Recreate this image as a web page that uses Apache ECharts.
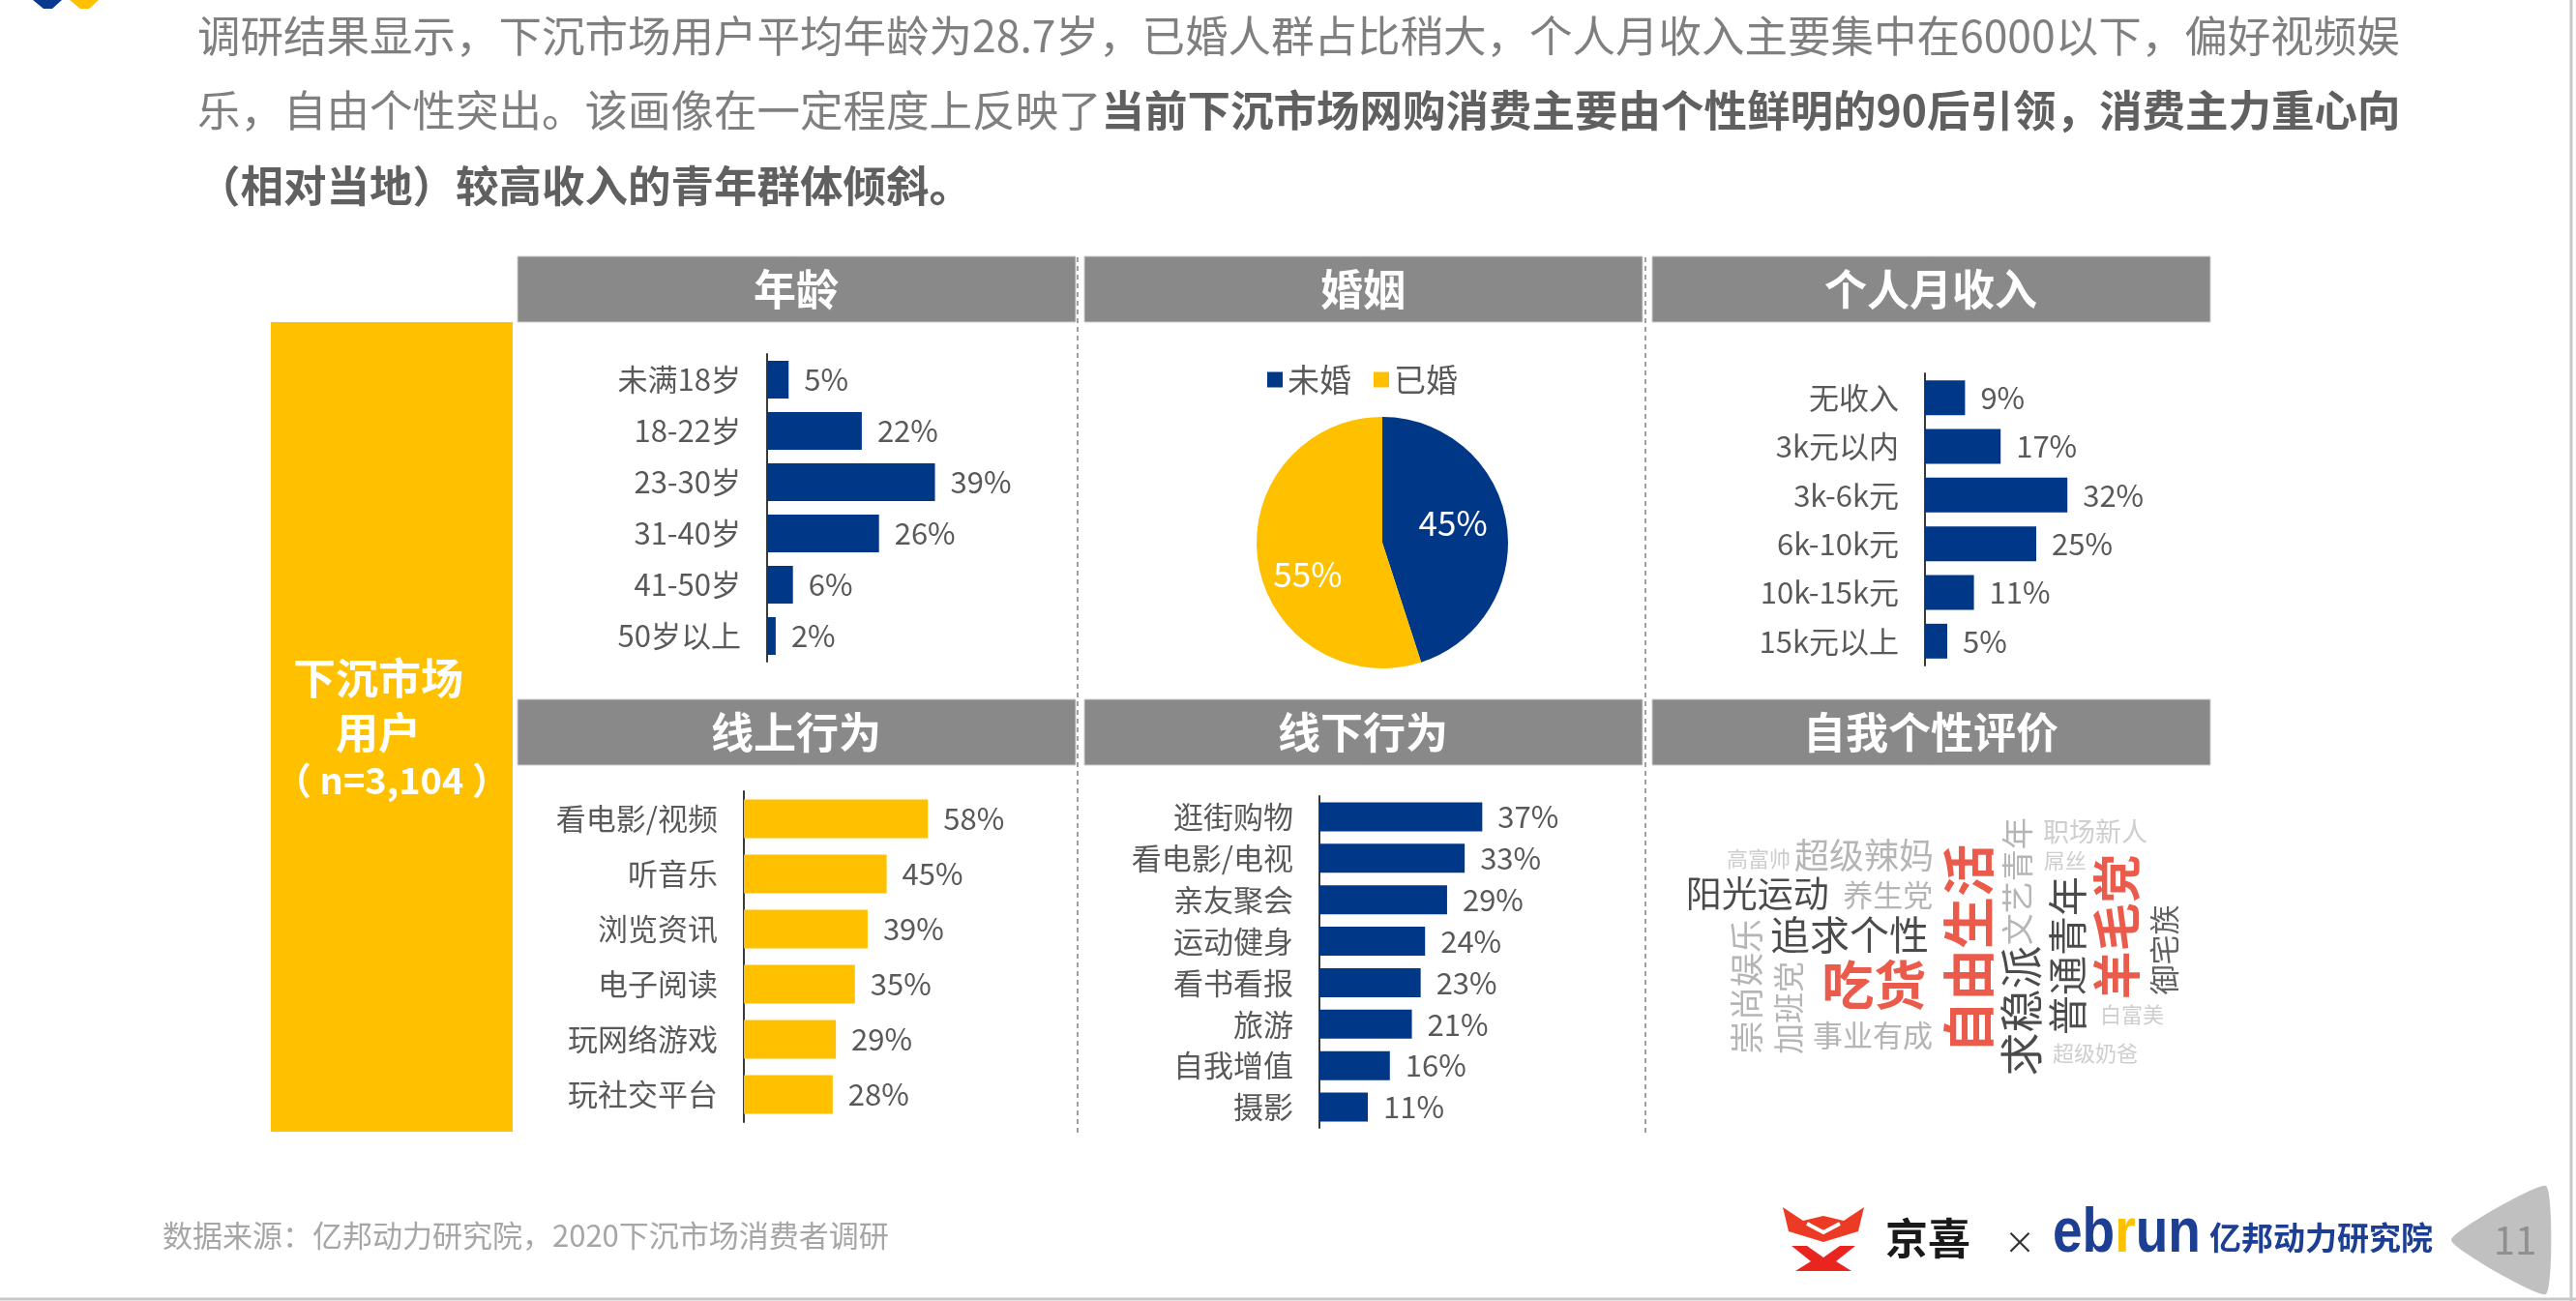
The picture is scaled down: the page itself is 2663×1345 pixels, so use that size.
<!DOCTYPE html>
<html>
<head>
<meta charset="utf-8">
<script src="https://cdn.jsdelivr.net/npm/echarts@6/dist/echarts.min.js"></script>
<style>
html, body { margin: 0; padding: 0; background: #fff; }
#main { width: 2663px; height: 1345px; }
</style>
</head>
<body>
<div id="main"></div>
<script>
var FONT = '"Noto Sans CJK SC", "Noto Sans", sans-serif';
var BLUE = '#003887';
var YELLOW = '#FFC000';

// ---- data ----
var ageCats = ['未满18岁', '18-22岁', '23-30岁', '31-40岁', '41-50岁', '50岁以上'];
var ageVals = [5, 22, 39, 26, 6, 2];

var marryCats = ['未婚', '已婚'];
var marryVals = [45, 55];

var incomeCats = ['无收入', '3k元以内', '3k-6k元', '6k-10k元', '10k-15k元', '15k元以上'];
var incomeVals = [9, 17, 32, 25, 11, 5];

var onlineCats = ['看电影/视频', '听音乐', '浏览资讯', '电子阅读', '玩网络游戏', '玩社交平台'];
var onlineVals = [58, 45, 39, 35, 29, 28];

var offlineCats = ['逛街购物', '看电影/电视', '亲友聚会', '运动健身', '看书看报', '旅游', '自我增值', '摄影'];
var offlineVals = [37, 33, 29, 24, 23, 21, 16, 11];

// word cloud: word, position on a 0-100 board, font size, rotation, tone
var cloudWords  = ['高富帅', '超级辣妈', '阳光运动', '养生党', '追求个性', '崇尚娱乐', '加班党', '吃货', '事业有成', '自由生活', '文艺青年', '职场新人', '屌丝', '求稳派', '普通青年', '羊毛党', '御宅族', '白富美', '超级奶爸'];
var cloudX      = [19.1, 38.0, 18.9, 42.3, 35.4, 17.0, 24.5, 39.8, 39.6, 56.8, 65.5, 79.5, 74.1, 66.3, 74.5, 83.3, 91.8, 86.1, 79.5];
var cloudY      = [25.6, 24.5, 35.1, 35.4, 46.2, 60.4, 66.2, 59.9, 73.6, 50.1, 31.7, 18.2, 26.1, 67.0, 52.0, 44.1, 50.4, 68.1, 78.6];
var cloudSize   = [22, 36, 37, 31, 41, 35, 32, 54, 31, 54, 33, 27, 22, 45, 41, 50, 31, 22, 22];
var cloudRotate = [0, 0, 0, 0, 0, 90, 90, 0, 0, 90, 90, 0, 0, 90, 90, 90, 90, 0, 0];
var cloudTone   = ['l', 'g', 'k', 'g', 'k', 'g', 'g', 'r', 'g', 'r', 'g', 'l', 'l', 'k', 'k', 'r', 'd', 'l', 'l'];

var headers = ['年龄', '婚姻', '个人月收入', '线上行为', '线下行为', '自我个性评价'];

var toneColor = { r: '#e5321f', k: '#1e1e1e', d: '#3a3a3a', g: '#a3a3a3', l: '#c2c2c2' };

var chart = echarts.init(document.getElementById('main'));

function barBlock(i, cats, vals, color, box, barW) {
  return {
    grid: { left: box[0], top: box[1], width: box[2], height: box[3], outerBoundsMode: 'none' },
    xAxis: { gridIndex: i, type: 'value', min: 0, max: box[4], show: false, splitLine: { show: false } },
    yAxis: {
      gridIndex: i, type: 'category', data: cats, inverse: true,
      axisLine: { show: true, lineStyle: { color: '#3a3a3a', width: 2 } },
      axisTick: { show: false },
      splitLine: { show: false },
      axisLabel: { interval: 0, margin: 27, fontSize: 31, color: '#595959', fontFamily: FONT }
    },
    series: {
      type: 'bar', xAxisIndex: i, yAxisIndex: i, data: vals, barWidth: barW, silent: true,
      itemStyle: { color: color },
      label: { show: true, position: 'right', distance: 16, formatter: '{c}%', fontSize: 31, color: '#595959', fontFamily: FONT }
    }
  };
}

var blocks = [
  barBlock(0, ageCats, ageVals, BLUE, [793, 366, 222.5, 318, 50], 39),
  barBlock(1, incomeCats, incomeVals, BLUE, [1990, 386, 230, 302, 50], 36),
  barBlock(2, onlineCats, onlineVals, YELLOW, [769, 818, 262.4, 342, 80], 40),
  barBlock(3, offlineCats, offlineVals, BLUE, [1364, 823, 227.5, 343, 50], 30)
];

var grids = blocks.map(function (b) { return b.grid; });
var xAxes = blocks.map(function (b) { return b.xAxis; });
var yAxes = blocks.map(function (b) { return b.yAxis; });
var series = blocks.map(function (b) { return b.series; });

// word cloud board
grids.push({ left: 1708, top: 791, width: 576, height: 379, outerBoundsMode: 'none' });
xAxes.push({ gridIndex: 4, type: 'value', min: 0, max: 100, show: false, splitLine: { show: false } });
yAxes.push({ gridIndex: 4, type: 'value', min: 0, max: 100, inverse: true, show: false, splitLine: { show: false } });

var cloudData = cloudWords.map(function (w, k) {
  return {
    name: w,
    value: [cloudX[k], cloudY[k]],
    label: {
      fontSize: cloudSize[k],
      rotate: cloudRotate[k],
      color: toneColor[cloudTone[k]],
      fontWeight: cloudTone[k] === 'r' ? 'bold' : 'normal'
    }
  };
});

series.push({
  type: 'scatter', xAxisIndex: 4, yAxisIndex: 4, silent: true,
  symbolSize: 1, itemStyle: { color: 'rgba(0,0,0,0)' },
  data: cloudData,
  label: { show: true, position: 'inside', formatter: '{b}', fontFamily: FONT, align: 'center', verticalAlign: 'middle' }
});

// marriage pie
var pieLabelShift = [[6, -10], [-10, 22]];
series.push({
  type: 'pie', center: [1429, 561], radius: 130, startAngle: 90, clockwise: true, silent: true,
  itemStyle: { borderWidth: 0 },
  label: { show: true, position: 'inside', formatter: '{c}%', color: '#fff', fontSize: 35, fontFamily: FONT },
  labelLine: { show: false },
  data: marryCats.map(function (c, k) {
    return {
      name: c, value: marryVals[k],
      itemStyle: { color: k === 0 ? BLUE : YELLOW },
      label: { offset: pieLabelShift[k] }
    };
  })
});

// ---- decoration ----
var graphics = [];

function txt(x, y, text, size, color, weight, align) {
  return {
    type: 'text', silent: true,
    style: {
      text: text, x: x, y: y, fill: color,
      fontSize: size, fontWeight: weight || 'normal', fontFamily: FONT,
      align: align || 'left', textAlign: align || 'left',
      verticalAlign: 'middle', textVerticalAlign: 'middle'
    }
  };
}

// slide frame
graphics.push({ type: 'line', shape: { x1: 2658, y1: 0, x2: 2658, y2: 1345 }, style: { stroke: '#c8c8c8', lineWidth: 3 } });
graphics.push({ type: 'line', shape: { x1: 0, y1: 1343, x2: 2663, y2: 1343 }, style: { stroke: '#c8c8c8', lineWidth: 3 } });

// tiny corner logo
graphics.push({ type: 'polygon', shape: { points: [[34, 0], [64, 0], [54, 9], [45, 9]] }, style: { fill: '#0a3a8f' } });
graphics.push({ type: 'polygon', shape: { points: [[72, 0], [102, 0], [92, 9], [83, 9]] }, style: { fill: YELLOW } });

// intro text
graphics.push(txt(204, 37, '调研结果显示，下沉市场用户平均年龄为28.7岁，已婚人群占比稍大，个人月收入主要集中在6000以下，偏好视频娱', 44.5, '#7f7f7f'));
graphics.push({
  type: 'text', silent: true,
  style: {
    x: 204, y: 114, verticalAlign: 'middle', textVerticalAlign: 'middle',
    text: '{n|乐，自由个性突出。该画像在一定程度上反映了}{b|当前下沉市场网购消费主要由个性鲜明的90后引领，消费主力重心向}',
    rich: {
      n: { fontSize: 44.5, fill: '#7f7f7f', color: '#7f7f7f', fontFamily: FONT },
      b: { fontSize: 44.5, fill: '#606060', color: '#606060', fontWeight: 'bold', fontFamily: FONT }
    }
  }
});
graphics.push(txt(204, 192, '（相对当地）较高收入的青年群体倾斜。', 44.5, '#606060', 'bold'));

// yellow side box
graphics.push({ type: 'rect', shape: { x: 280, y: 333, width: 250, height: 837 }, style: { fill: YELLOW } });
graphics.push(txt(391, 701, '下沉市场', 44, '#fff', 'bold', 'center'));
graphics.push(txt(391, 757, '用户', 44, '#fff', 'bold', 'center'));
graphics.push(txt(405, 807, '（ n=3,104 ）', 38, '#fff', 'bold', 'center'));

// dashed separators
[1114, 1701].forEach(function (x) {
  graphics.push({ type: 'line', shape: { x1: x, y1: 266, x2: x, y2: 1172 }, style: { stroke: '#a0a0a0', lineWidth: 2, lineDash: [5, 4] } });
});

// section headers
var headX = [535, 1121, 1708];
var headY = [265, 723];
headers.forEach(function (h, k) {
  var x = headX[k % 3], y = headY[Math.floor(k / 3)];
  graphics.push({ type: 'rect', shape: { x: x, y: y, width: 577, height: 68 }, style: { fill: '#898989', stroke: '#cfcfcf', lineWidth: 1 } });
  graphics.push(txt(x + 288, y + 34, h, 44, '#fff', 'bold', 'center'));
});

// footer
graphics.push(txt(168, 1277, '数据来源：亿邦动力研究院，2020下沉市场消费者调研', 31, '#a6a6a6'));

// 京喜 mark
graphics.push({ type: 'polygon', shape: { points: [[1843, 1248], [1864, 1262], [1885, 1257], [1906, 1262], [1927, 1248], [1921, 1273], [1885, 1284], [1849, 1273]] }, style: { fill: '#ec3b24' } });
graphics.push({ type: 'polyline', shape: { points: [[1868, 1265], [1885, 1274], [1902, 1265]] }, style: { stroke: '#fff', lineWidth: 4, fill: null } });
graphics.push({ type: 'polygon', shape: { points: [[1852, 1288], [1868, 1288], [1885, 1300], [1902, 1288], [1918, 1288], [1898, 1304], [1914, 1314], [1856, 1314], [1872, 1304]] }, style: { fill: '#e8261f' } });
graphics.push(txt(1949, 1280, '京喜', 44, '#1a1a1a', 'bold'));
graphics.push(txt(2088, 1284, '×', 32, '#333', 'normal', 'center'));

// ebrun mark
graphics.push({
  type: 'text', silent: true, x: 2122, y: 1276, scaleX: 0.86,
  style: {
    x: 0, y: 0, verticalAlign: 'middle', textVerticalAlign: 'middle',
    text: '{a|eb}{c|r}{a|un}',
    rich: {
      a: { fontSize: 64, fontWeight: 'bold', fill: '#1c3f94', color: '#1c3f94', fontFamily: '"Liberation Sans", Arial, sans-serif' },
      c: { fontSize: 64, fontWeight: 'bold', fill: YELLOW, color: YELLOW, fontFamily: '"Liberation Sans", Arial, sans-serif' }
    }
  }
});
graphics.push(txt(2284, 1279, '亿邦动力研究院', 33, '#1c3f94', 'bold'));

// page marker
graphics.push({ type: 'polygon', shape: { points: [[2534, 1282], [2632, 1226], [2632, 1338]], smooth: 0.15 }, style: { fill: '#c0c0c0' } });
graphics.push(txt(2600, 1282, '11', 40, '#8f8f8f', 'normal', 'center'));

var option = {
  backgroundColor: '#fff',
  animation: false,
  textStyle: { fontFamily: FONT },
  legend: {
    data: marryCats, left: 1305, top: 371, icon: 'rect', itemWidth: 16, itemHeight: 16, itemGap: 23,
    selectedMode: false,
    textStyle: { fontSize: 33, color: '#595959', fontFamily: FONT }
  },
  grid: grids,
  xAxis: xAxes,
  yAxis: yAxes,
  series: series,
  graphic: graphics
};
option && chart.setOption(option);
</script>
</body>
</html>
